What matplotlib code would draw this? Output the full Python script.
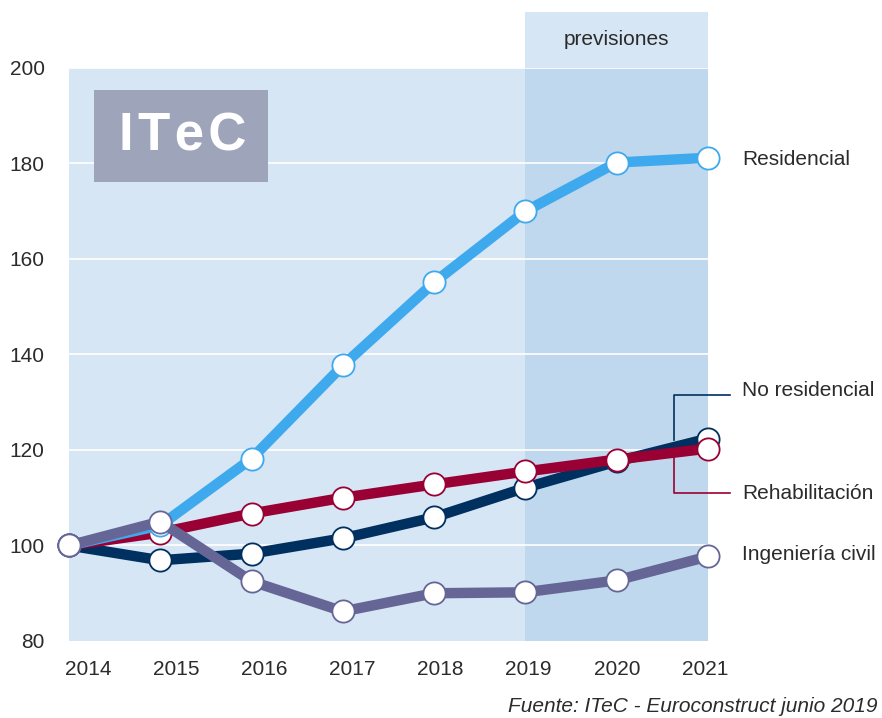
import matplotlib
matplotlib.use("Agg")
import matplotlib.pyplot as plt
from matplotlib.patches import Rectangle

plt.rcParams['font.family'] = ['Liberation Sans', 'DejaVu Sans']

years = [2014, 2015, 2016, 2017, 2018, 2019, 2020, 2021]
residencial = [100, 104.2, 118.2, 137.7, 155.1, 170.0, 180.2, 181.2]
no_residencial = [100, 96.9, 98.3, 101.5, 105.9, 112.1, 117.6, 122.4]
rehabilitacion = [100, 102.7, 106.7, 110.0, 112.8, 115.5, 118.0, 120.3]
ingenieria = [100, 105.0, 92.5, 86.2, 90.0, 90.2, 92.7, 97.7]

names = ["No residencial", "Rehabilitación", "Residencial", "Ingeniería civil"]
colors = ["#00305f", "#990033", "#3fa9ee", "#666696"]
yticks = [80, 100, 120, 140, 160, 180, 200]

txt = "#2b2b2b"
bg = "#d6e6f5"
fc = "#c0d8ee"
fs = 15

fig = plt.figure(figsize=(8.82, 7.18), dpi=100)
ax = fig.add_axes([69 / 882, 1 - 641 / 718, 639 / 882, 573 / 718])
ax.set_facecolor(bg)
ax.set_xlim(2014, 2021)
ax.set_ylim(80, 200)


def px2y(p):
    return 200 - (p - 68) / 4.775


def px2x(p):
    return 2014 + (p - 69) / (639 / 7)


# forecast zone
ax.axvspan(2019, 2021, color=fc, lw=0, zorder=0)
ax.add_patch(Rectangle((2019, 200), 2, 11.7, facecolor=bg, edgecolor="none",
                       clip_on=False, zorder=0))
ax.text(2020, px2y(40), "previsiones", ha="center", va="center", fontsize=fs, color=txt)

for v in yticks[1:]:
    ax.axhline(v, color="white", lw=1.2, zorder=1)

series = [no_residencial, rehabilitacion, residencial, ingenieria]
for i, (vals, c) in enumerate(zip(series, colors)):
    ax.plot(years, vals, color=c, lw=7.5, solid_capstyle="round",
            marker="o", ms=16, mfc="white", mec=c, mew=1.3,
            clip_on=False, zorder=3 + i)

for s in ax.spines.values():
    s.set_visible(False)
# category labels are spread slightly differently from the points
x0, x1 = px2x(88), px2x(705)
step = (x1 - x0) / (len(years) - 1)
ax.set_xticks([x0 + i * step for i in range(len(years))])
ax.set_xticklabels([str(y) for y in years])
ax.set_yticks(yticks)
ax.tick_params(length=0, labelsize=fs, colors=txt)
ax.tick_params(axis="x", pad=13.5)
ax.tick_params(axis="y", pad=17.5)

# logo box
ax.add_patch(Rectangle((0.039, 0.801), 0.272, 0.161, transform=ax.transAxes,
                       facecolor="#9ea5bb", edgecolor="none", zorder=2))
ax.text(0.178, 0.881, "I\u200aT\u200ae\u200aC", transform=ax.transAxes, ha="center",
        va="center", fontsize=38, fontweight="bold", color="white", zorder=2)

lx = px2x(742)
ax.text(lx, px2y(160), "Residencial", ha="left", va="center", fontsize=fs, color=txt)
ax.text(lx, px2y(391), "No residencial", ha="left", va="center", fontsize=fs, color=txt)
ax.text(lx, px2y(494), "Rehabilitación", ha="left", va="center", fontsize=fs, color=txt)
ax.text(lx, px2y(555), "Ingeniería civil", ha="left", va="center", fontsize=fs, color=txt)

ax.plot([px2x(730), px2x(674), px2x(674)], [px2y(395), px2y(395), px2y(440)],
        color=colors[0], lw=1.2, clip_on=False, zorder=2)
ax.plot([px2x(674), px2x(674), px2x(730)], [px2y(448), px2y(493), px2y(493)],
        color=colors[1], lw=1.2, clip_on=False, zorder=2)

fig.text(508 / 882, 1 - 707 / 718, "Fuente: ITeC - Euroconstruct junio 2019",
         ha="left", va="center", fontsize=15, style="italic", color=txt)

fig.savefig("out.png", dpi=100)
